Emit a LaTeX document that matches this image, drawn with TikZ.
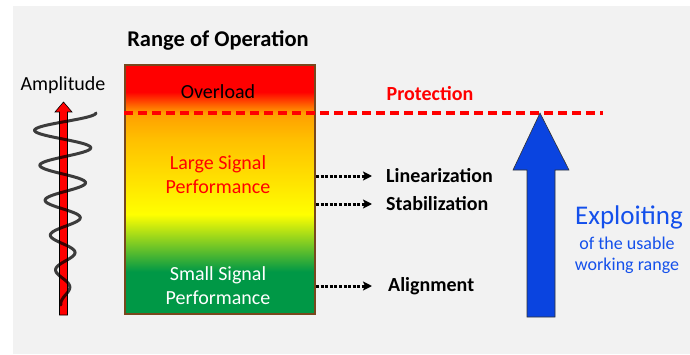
\documentclass[tikz,border=0pt]{standalone}
\usepackage{fontspec}
\setmainfont{Carlito}
\usetikzlibrary{arrows.meta}
\definecolor{bg}{RGB}{242,242,242}
\definecolor{gGreen}{RGB}{0,152,70}
\definecolor{gYellow}{RGB}{255,255,0}
\definecolor{gOrangeA}{RGB}{255,192,0}
\definecolor{gOrangeB}{RGB}{255,158,0}
\definecolor{gRed}{RGB}{255,0,0}
\definecolor{boxBrown}{RGB}{120,72,30}
\definecolor{arrowBlue}{RGB}{10,68,224}
\definecolor{textBlue}{RGB}{20,80,235}
\pgfdeclareverticalshading{opgrad}{100bp}{color(0bp)=(gGreen); color(33.5bp)=(gGreen); color(45bp)=(gYellow); color(60bp)=(gOrangeA); color(65.4bp)=(gOrangeB); color(69.6bp)=(gRed); color(100bp)=(gRed)}
\begin{document}
\begin{tikzpicture}[x=1pt,y=1pt,
  lbl/.style={inner sep=0pt, font=\fontsize{20}{24}\selectfont},
  blbl/.style={lbl, font=\fontsize{20}{24}\selectfont\bfseries},
  dotarrow/.style={line width=3pt, dash pattern=on 3pt off 1.6pt, -{Stealth[length=9pt,width=9pt,inset=2pt]}},
  protline/.style={gRed, line width=3.4pt, dash pattern=on 9pt off 5pt}]
\useasboundingbox (0,0) rectangle (690,354);
\fill[bg] (13,0) rectangle (690,348);

% amplitude arrow and wave
\node[lbl] (amp) at (63,269) {Amplitude};
\draw[black, line width=0.6pt, fill=gRed] (59.5,39) -- (59.5,242) -- (55,242) -- (63.5,252) -- (72,242) -- (67.5,242) -- (67.5,39) -- cycle;
\draw[black, opacity=0.75, line width=3pt, line cap=round]
  plot[domain=0:192, samples=240, smooth] ({64+(32-0.15*\x)*cos(10.2857*\x)}, {241-\x});

% range box
\node[blbl, font=\fontsize{22.5}{26}\selectfont\bfseries] (title) at (218,314) {Range of Operation};
\node[draw=boxBrown, line width=1.8pt, shading=opgrad, minimum width=190pt, minimum height=249pt, inner sep=0pt] (box) at (220,164.5) {};
\node[lbl] (over) at (218,262) {Overload};
\node[lbl, text=gRed, align=center] (large) at (218,179.5) {Large Signal\\Performance};
\node[lbl, text=white, align=center] (small) at (218,68) {Small Signal\\Performance};

% protection line
\coordinate (pend) at (603,241);
\draw[protline] (box.west |- pend) -- (pend);
\node[blbl, text=gRed] (prot) at (430,260) {Protection};

% measures
\node[blbl, anchor=west] (lin) at (386,178) {Linearization};
\node[blbl, anchor=west] (stab) at (386,150) {Stabilization};
\node[blbl, anchor=west] (align) at (388,68) {Alignment};
\draw[dotarrow] (box.east |- lin.west) -- ([xshift=-14pt]lin.west);
\draw[dotarrow] (box.east |- stab.west) -- ([xshift=-14pt]stab.west);
\draw[dotarrow] (box.east |- align.west) -- ([xshift=-16pt]align.west);

% blue arrow
\draw[black!80, line width=0.6pt, fill=arrowBlue] (527,37) -- (527,184) -- (513,184) -- (540,241) -- (569,184) -- (555,184) -- (555,37) -- cycle;
\node[lbl, text=textBlue, font=\fontsize{27}{32}\selectfont] (expl) at (629,137) {Exploiting};
\node[lbl, text=textBlue, font=\fontsize{18}{21}\selectfont, align=center] (usable) at (627,98.5) {of the usable\\working range};
\end{tikzpicture}
\end{document}
